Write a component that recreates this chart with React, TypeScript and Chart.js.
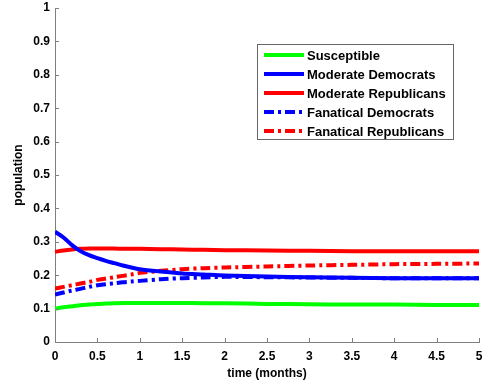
import React, { useEffect, useRef } from "react";
import { Chart, registerables } from "chart.js";

Chart.register(...registerables);

const times = [0, 0.1, 0.2, 0.3, 0.4, 0.5, 0.6, 0.7, 0.8, 0.9, 1, 1.25, 1.5, 1.75, 2, 2.5, 3, 3.5, 4, 4.5, 5];
const susceptible = [0.1, 0.104, 0.107, 0.11, 0.112, 0.114, 0.115, 0.116, 0.117, 0.117, 0.117, 0.117, 0.117, 0.116, 0.116, 0.114, 0.113, 0.112, 0.112, 0.111, 0.111];
const moderateDemocrats = [0.33, 0.313, 0.29, 0.272, 0.26, 0.251, 0.243, 0.236, 0.229, 0.223, 0.218, 0.211, 0.205, 0.202, 0.199, 0.196, 0.194, 0.192, 0.191, 0.191, 0.191];
const moderateRepublicans = [0.27, 0.274, 0.277, 0.279, 0.28, 0.28, 0.28, 0.28, 0.279, 0.279, 0.279, 0.278, 0.277, 0.276, 0.275, 0.274, 0.273, 0.272, 0.272, 0.272, 0.272];
const fanaticalDemocrats = [0.142, 0.148, 0.154, 0.159, 0.165, 0.17, 0.173, 0.176, 0.179, 0.181, 0.183, 0.188, 0.191, 0.193, 0.195, 0.194, 0.193, 0.192, 0.191, 0.191, 0.191];
const fanaticalRepublicans = [0.16, 0.165, 0.17, 0.175, 0.18, 0.186, 0.19, 0.194, 0.198, 0.202, 0.207, 0.213, 0.218, 0.221, 0.223, 0.226, 0.229, 0.231, 0.233, 0.234, 0.235];

const seriesNames = ["Susceptible", "Moderate Democrats", "Moderate Republicans", "Fanatical Democrats", "Fanatical Republicans"];
const xTickLabels = ["0", "0.5", "1", "1.5", "2", "2.5", "3", "3.5", "4", "4.5", "5"];
const yTickLabels = ["0", "0.1", "0.2", "0.3", "0.4", "0.5", "0.6", "0.7", "0.8", "0.9", "1"];

const FONT = "'Liberation Sans', Arial, sans-serif";
const DASHDOT = [10, 4, 3, 4];

const inwardTicks = {
  id: "inwardTicks",
  afterDraw(chart: any) {
    const ctx = chart.ctx;
    const xs = chart.scales.x;
    const ys = chart.scales.y;
    const area = chart.chartArea;
    ctx.save();
    ctx.strokeStyle = "#7f7f7f";
    ctx.lineWidth = 1;
    ctx.beginPath();
    xs.ticks.forEach((t: any) => {
      const px = Math.round(xs.getPixelForValue(t.value)) + 0.5;
      ctx.moveTo(px, area.bottom);
      ctx.lineTo(px, area.bottom - 4);
    });
    ys.ticks.forEach((t: any) => {
      const py = Math.round(ys.getPixelForValue(t.value)) + 0.5;
      ctx.moveTo(area.left, py);
      ctx.lineTo(area.left + 4, py);
    });
    ctx.stroke();

    // legend box
    const boxL = area.left + 202;
    const boxT = area.top + 36;
    const boxW = 196;
    const boxH = 95;
    ctx.fillStyle = "#ffffff";
    ctx.fillRect(boxL, boxT, boxW, boxH);
    ctx.strokeStyle = "#666666";
    ctx.strokeRect(boxL + 0.5, boxT + 0.5, boxW, boxH);
    ctx.font = "bold 13px " + FONT;
    ctx.textBaseline = "middle";
    ctx.textAlign = "left";
    chart.data.datasets.forEach((ds: any, i: number) => {
      const y = boxT + 11 + i * 19;
      ctx.beginPath();
      ctx.strokeStyle = ds.borderColor;
      ctx.lineWidth = 4;
      ctx.setLineDash(ds.borderDash || []);
      ctx.moveTo(boxL + 7, y);
      ctx.lineTo(boxL + 47, y);
      ctx.stroke();
      ctx.setLineDash([]);
      ctx.fillStyle = "#000000";
      ctx.fillText(ds.label, boxL + 50, y + 1);
    });
    ctx.restore();
  },
};

export default function App() {
  const ref = useRef<HTMLCanvasElement>(null);
  useEffect(() => {
    if (!ref.current) return;
    const mk = (label: string, data: number[], color: string, dash?: number[]) => ({
      label,
      data: data.map((v, i) => ({ x: times[i], y: v })),
      borderColor: color,
      backgroundColor: color,
      borderWidth: 4,
      borderDash: dash || [],
      pointRadius: 0,
      tension: 0.3,
      fill: false,
    });
    const chart = new Chart(ref.current, {
      type: "line",
      data: {
        datasets: [
          mk(seriesNames[0], susceptible, "#00ff00"),
          mk(seriesNames[1], moderateDemocrats, "#0000ff"),
          mk(seriesNames[2], moderateRepublicans, "#ff0000"),
          mk(seriesNames[3], fanaticalDemocrats, "#0000ff", DASHDOT),
          mk(seriesNames[4], fanaticalRepublicans, "#ff0000", DASHDOT),
        ],
      },
      options: {
        animation: false,
        responsive: true,
        maintainAspectRatio: false,
        layout: { padding: { top: 8, right: 5, left: 0, bottom: 0 } },
        plugins: { legend: { display: false }, tooltip: { enabled: false } },
        scales: {
          x: {
            type: "linear",
            min: 0,
            max: 5,
            grid: { display: false, drawTicks: false, tickLength: 0 },
            border: { display: true, color: "#7f7f7f", width: 1 },
            ticks: {
              stepSize: 0.5,
              padding: 7,
              color: "#000000",
              font: { family: FONT, size: 12, weight: "bold" },
              maxRotation: 0,
              autoSkip: false,
              callback: (v: any) => {
                const idx = Math.round(Number(v) / 0.5);
                return xTickLabels[idx] ?? "";
              },
            },
            title: {
              display: true,
              text: "time (months)",
              color: "#000000",
              font: { family: FONT, size: 12, weight: "bold" },
              padding: { top: 0, bottom: 4 },
            },
            afterFit: (s: any) => {
              s.height = 43;
              s.paddingLeft = 0;
              s.paddingRight = 0;
            },
          },
          y: {
            type: "linear",
            min: 0,
            max: 1,
            grid: { display: false, drawTicks: false, tickLength: 0 },
            border: { display: true, color: "#7f7f7f", width: 1 },
            ticks: {
              stepSize: 0.1,
              padding: 5,
              color: "#000000",
              font: { family: FONT, size: 12, weight: "bold" },
              autoSkip: false,
              callback: (v: any) => {
                const idx = Math.round(Number(v) * 10);
                return yTickLabels[idx] ?? "";
              },
            },
            title: {
              display: true,
              text: "population",
              color: "#000000",
              font: { family: FONT, size: 12, weight: "bold" },
              padding: { top: 11, bottom: 0 },
            },
            afterFit: (s: any) => {
              s.width = 55;
              s.paddingTop = 0;
              s.paddingBottom = 0;
            },
          },
        },
      },
      plugins: [inwardTicks],
    } as any);
    return () => chart.destroy();
  }, []);
  return (
    <div style={{ position: "absolute", left: 0, top: 0, width: 484, height: 385, background: "#fff" }}>
      <canvas ref={ref} />
    </div>
  );
}
